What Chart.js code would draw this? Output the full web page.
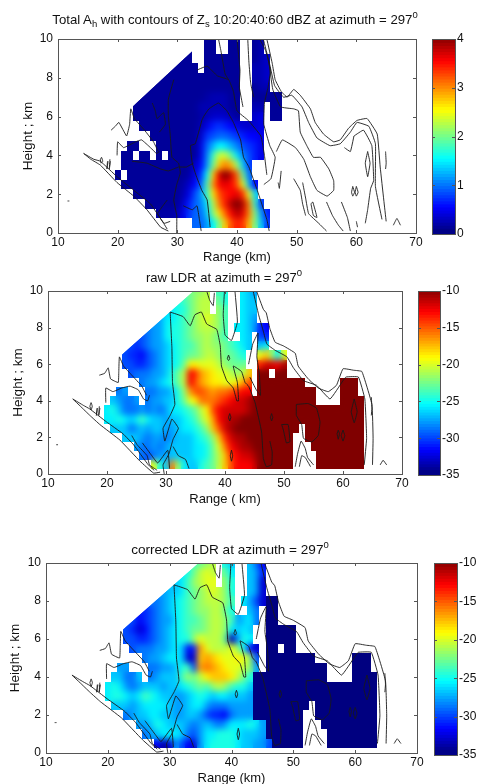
<!DOCTYPE html>
<html>
<head>
<meta charset="utf-8">
<script src="https://cdn.jsdelivr.net/npm/chart.js@4"></script>
<style>
html, body { margin: 0; padding: 0; background: #fff; width: 480px; height: 784px; overflow: hidden; }
#page { position: relative; width: 480px; height: 784px; overflow: hidden; filter: blur(0.35px); }
canvas { position: absolute; left: 0; }
.title { position: absolute; transform: translate(-50%, -50%); white-space: nowrap; font: 13px "Liberation Sans", sans-serif; color: #111; }
.title sub, .title sup { font-size: 9.5px; line-height: 0; }
</style>
</head>
<body>
<div id="page">
  <div class="title" style="left:235px;top:19px;font-size:13.2px">Total A<sub>h</sub> with contours of Z<sub>s</sub> 10:20:40:60 dBZ at azimuth = 297<sup>0</sup></div>
  <div class="title" style="left:224px;top:277px">raw LDR at azimuth = 297<sup>0</sup></div>
  <div class="title" style="left:230px;top:549px;font-size:13.6px">corrected LDR at azimuth = 297<sup>0</sup></div>
</div>
<script>
// axes
const rangeTicks = [10, 20, 30, 40, 50, 60, 70];
const heightTicks = [0, 2, 4, 6, 8, 10];
const ahTicks = [0, 1, 2, 3, 4];
const ldrTicks = [-35, -30, -25, -20, -15, -10];

// grid: first column is 20 km, rows go from the top down
const rangeStart = 20;
const rangeStep = 1;
const heightBins = [10, 9.5, 9, 8.5, 8, 7.5, 7, 6.5, 6, 5.5, 5, 4.5, 4, 3.5, 3, 2.5, 2, 1.5, 1, 0.5];

// total Ah (dB/km)
const ahValues = [
  [,,,,,,,,,,,,,,,.1,.1,,,.1,.1,,,.1,.2],
  [,,,,,,,,,,,,.1,,,.1,.1,,,.1,.1,,,.1,.2],
  [,,,,,,,,,,.1,.1,.1,,,.1,.1,.1,.1,.1,.1,,,.1,.2,.3],
  [,,,,,,,,,.1,.1,.1,.1,.1,,.1,.1,.1,.1,.1,.1,,,.2,.2,.3],
  [,,,,,,,.1,.1,.1,.1,.1,.1,.1,.1,.1,.1,.1,.1,.1,.1,,,.2,.2,.3],
  [,,,,,.1,.1,.1,.1,.1,.1,.1,.1,.1,.1,.1,.1,.1,.1,.1,.1,,,.1,.2,.2],
  [,,,.1,.1,.1,.1,.1,.1,.1,.1,.1,.1,.1,.1,.15,.2,.2,.2,.1,.1,,,.1,.1,.1,.1,.1],
  [,,,.1,.1,.1,.1,.1,.1,.1,.1,.1,.1,.1,.2,.2,.2,.2,.2,.1,.1,,,.2,.2,,.1,.1],
  [,,,.1,.1,.1,.1,.1,.1,.1,.1,.1,.1,.1,.15,.2,.3,.3,.3,.2,.1,,,.3,.4,,.1,.1],
  [,,,,.1,.1,.1,.1,.1,.1,.1,.1,.1,.1,.2,.4,.6,.7,.6,.5,.4,.3,.3,.3,.4],
  [,,,,,,.1,.1,.1,.1,.1,.1,.1,.1,.3,.7,.8,.9,.9,.8,.7,.6,.5,.5,.4],
  [,,.1,.1,,,,.1,.1,.1,.1,.1,.1,.1,.4,.9,1.2,1.5,1.4,1.2,1,.8,.7,.6,.4],
  [,.1,.1,,.1,.1,,.1,,.1,.1,.1,.1,.1,.4,1,1.7,2.3,2.3,1.9,1.4,1,.8,.6,.4],
  [,.1,.1,.1,.1,.1,.1,.1,.1,.1,.1,.1,.1,.3,.5,1.1,1.9,2.7,3,2.8,2.1,1.3,.7],
  [.1,,.1,.1,.1,.1,.1,.1,.1,.1,.1,.1,.15,.4,.7,1.5,2.7,3.6,4,3.7,3.1,1.9,.9],
  [,.1,.1,.1,.1,.1,.1,.1,.1,.1,.1,.15,.3,.5,.9,1.8,2.9,3.5,3.6,3.5,3.2,2.4,1.2,.5],
  [,,,.1,.1,.1,.1,.1,.1,.1,.1,.2,.4,.8,1.1,1.7,2.6,3.2,3.4,3.5,3.6,3.3,2.4,1.3],
  [,,,,,.1,.1,.1,.1,.1,.1,.3,.6,.9,1,1.4,2.2,3,3.4,3.8,4,3.8,3,1.7,.7],
  [,,,,,,,.15,.15,.15,.2,.4,.7,.9,.9,1.3,2,2.6,3.1,3.5,3.8,3.6,3,2,1.1,.6],
  [,,,,,,,,,,,,,.9,.9,1.1,1.5,2,2.7,3.2,3.4,3.3,2.8,2,1.3,.7]
];

// raw LDR (dB)
const rawLdrValues = [
  [,,,,,,,,,,,,,,-23,-22,-22,-21,,-24,-25,,,-26,-27,-28],
  [,,,,,,,,,,,,-25,-24,-23,-22,-21,-21,,-23,-25,,,-26,-27,-27],
  [,,,,,,,,,,-27,-26,-25,-25,-23,-22,-21,-21,,-22,-24,,,-26,-27,-27],
  [,,,,,,,,,-28,-26,-26,-25,-24,-23,-22,-21,-20,-21,-22,-24,,,-26,-27,-28],
  [,,,,,,,-29,-28,-28,-26,-25,-25,-24,-23,-22,-21,-21,-21,-22,-24,,-26,-26,-27,-28,-31,-32],
  [,,,,,-30,-30,-29,-28,-28,-26,-25,-25,-24,-23,-22,-22,-21,-22,-23,-24,,,-26,-27,,-30,-31],
  [,,,-30,-30,-31,-30,-29,-28,-28,-27,-26,-25,-24,-24,-23,-22,-21,-22,-22,-23,-24,-25,-26,-27,,-27,-26],
  [,,,-30,-31,-31,-32,-30,-29,-28,-27,-26,-25,-24,-23,-23,-22,-21,-21,-22,-23,-23,-24,-25,,,-20,-18,-22,-26,-20],
  [,,,-30,-30,-31,-31,-30,-29,-28,-27,-26,-25,-23,-19,-19,-20,-20,-20,-21,-22,-23,-23,-23,,,-14,-12,-12,-13,-11],
  [,,,,-30,-29,-29,-29,-28,-28,-27,-25,-23,-21,-13,-14,-17,-18,-19,-20,-20,-21,-22,-21,-18,,-10,-10,,-10,-10],
  [,,,,,,-29,-28,-28,-27,-26,-25,-23,-21,-13,-15,-17,-18,-19,-19,-20,-20,-19,-17,-15,,-10,-10,-10,-10,-10,-10,-10,-10,,,,,,,-10,-10,-10],
  [,,-29,-28,,,,-29,-29,-28,-28,-27,-25,-22,-17,-15,-15,-16,-17,-16,-16,-15,-14,-13,-13,,-10,-10,-10,-10,-10,-10,-10,-10,-10,-10,,,,,-10,-10,-10],
  [,-27,-28,-29,-29,-28,,-29,-28,-28,-27,-27,-25,-23,-20,-19,-16,-16,-16,-15,-14,-13,-12,-12,-11,-10,-10,-10,-10,-10,-10,-10,-10,-10,-10,-10,,,,,-10,-10,-10,-10],
  [-26,-25,-27,-29,-29,-29,-28,-29,-28,-29,-28,-26,-26,-25,-24,-23,-21,-19,-15,-13,-12,-12,-12,-12,-11,-10,-10,-10,-10,-10,-10,-10,-10,-10,-10,-10,-10,-10,-10,-10,-10,-10,-10,-10],
  [-26,-26,-25,-26,-27,-26,-24,-26,-27,-27,-28,-27,-27,-26,-25,-24,-22,-20,-17,-13,-12,-11,-11,-10,-10,-10,-10,-10,-10,-10,-10,-10,-10,-10,-10,-10,-10,-10,-10,-10,-10,-10,-10,-10],
  [,-27,-27,-27,-29,-28,-27,-28,-27,-27,-28,-28,-27,-26,-26,-25,-24,-22,-18,-15,-12,-11,-10,-10,-10,-10,-10,-10,-10,-10,-10,-10,-10,,-10,-10,-10,-10,-10,-10,-10,-10,-10,-10],
  [,,,-27,-27,-27,-28,-29,-28,-28,-29,-28,-27,-27,-27,-26,-25,-24,-22,-18,-14,-12,-11,-11,-10,-10,-10,-10,-10,-10,-10,-10,,,-10,-10,-10,-10,-10,-10,-10,-10,-10,-10],
  [,,,,,-28,-29,-29,-28,-29,-28,-27,-27,-27,-27,-26,-26,-25,-23,-20,-16,-13,-12,-11,-11,-10,-10,-10,-10,-10,-10,-10,,,,-10,-10,-10,-10,-10,-10,-10,-10,-10],
  [,,,,,,-29,-30,-29,-28,-28,-27,-27,-27,-27,-26,-26,-25,-23,-21,-18,-14,-13,-12,-12,-11,-10,-10,-10,-10,-10,-10,,,,,-10,-10,-10,-10,-10,-10,-10,-10],
  [,,,,,,,,-20,-25,-27,-16,-22,-26,-27,-27,-25,-24,-23,-21,-18,-15,-13,-13,-13,-12,-10,-10,-10,-10,-10,-10,,,,,-10,-10,-10,-10,-10,-10,-10,-10]
];

// corrected LDR (dB)
const correctedLdrValues = [
  [,,,,,,,,,,,,,,-24,-23,-22,-21,,-25,-27,,,-27,-29,-32],
  [,,,,,,,,,,,,-26,-25,-23,-21,-20,-21,,-23,-26,,,-27,-28,-31],
  [,,,,,,,,,,-27,-27,-26,-24,-22,-21,-20,-20,,-22,-25,,,-27,-28,-33],
  [,,,,,,,,,-28,-27,-27,-26,-24,-23,-22,-21,-20,-21,-22,-25,,,-27,-28,-33],
  [,,,,,,,-29,-29,-28,-27,-26,-25,-24,-23,-22,-21,-21,-21,-22,-24,,-26,-28,-30,-33,-35,-35],
  [,,,,,-31,-31,-30,-29,-28,-27,-26,-25,-24,-23,-22,-22,-21,-21,-23,-25,,,-27,-29,,-35,-35],
  [,,,-30,-30,-32,-31,-30,-29,-28,-28,-26,-25,-24,-24,-23,-22,-21,-21,-22,-24,-28,-27,-26,-29,,-35,-35],
  [,,,-30,-31,-33,-32,-30,-29,-28,-27,-26,-25,-24,-23,-23,-22,-21,-21,-22,-26,-27,-26,-27,,,-35,-35,-35,-35,-35],
  [,,,-30,-30,-31,-31,-30,-29,-28,-27,-26,-25,-25,-22,-20,-21,-21,-21,-23,-34,-28,-25,-26,,,-35,-35,-35,-35,-35],
  [,,,,-30,-29,-29,-29,-28,-28,-27,-26,-27,-32,-31,-17,-20,-21,-21,-21,-20,-22,-26,-32,-33,,-35,-35,,-35,-35],
  [,,,,,,-29,-28,-28,-27,-26,-26,-27,-33,-33,-18,-17,-18,-19,-20,-20,-19,-20,-22,-30,,-35,-35,-35,-35,-35,-35,-35,-35,,,,,,,-35,-35,-35],
  [,,-28,-28,,,,-29,-29,-28,-28,-27,-25,-24,-30,-17,-16,-17,-18,-19,-20,-20,-21,-22,-28,,-35,-35,-35,-35,-35,-35,-35,-35,-35,-35,,,,,-35,-35,-35],
  [,-27,-27,-29,-29,-27,,-29,-28,-27,-27,-27,-24,-22,-23,-21,-19,-18,-18,-18,-19,-21,-23,-25,-35,-35,-35,-35,-35,-35,-35,-35,-35,-35,-35,-35,,,,,-35,-35,-35,-35],
  [-26,-25,-26,-28,-29,-28,-27,-27,-27,-28,-27,-27,-26,-25,-24,-23,-24,-22,-21,-22,-24,-25,-25,-27,-35,-35,-35,-35,-35,-35,-35,-35,-35,-35,-35,-35,-35,-35,-35,-35,-35,-35,-35,-35],
  [-26,-25,-25,-26,-27,-26,-24,-25,-26,-27,-27,-28,-28,-27,-26,-25,-26,-27,-26,-26,-27,-27,-27,-28,-35,-35,-35,-35,-35,-35,-35,-35,-35,-35,-35,-35,-35,-35,-35,-35,-35,-35,-35,-35],
  [,-27,-27,-27,-28,-27,-26,-26,-26,-26,-27,-28,-28,-27,-26,-26,-28,-29,-29,-29,-28,-28,-28,-28,-35,-35,-35,-35,-35,-35,-35,-35,-35,,-35,-35,-35,-35,-35,-35,-35,-35,-35,-35],
  [,,,-29,-28,-27,-27,-26,-26,-27,-27,-28,-28,-27,-27,-28,-30,-31,-31,-32,-29,-28,-28,-28,-35,-35,-35,-35,-35,-35,-35,-35,,,-35,-35,-35,-35,-35,-35,-35,-35,-35,-35],
  [,,,,,-28,-28,-27,-25,-26,-27,-27,-27,-28,-29,-28,-27,-28,-29,-28,-26,-26,-26,-25,-26,-28,-35,-35,-35,-35,-35,-35,,,,-35,-35,-35,-35,-35,-35,-35,-35,-35],
  [,,,,,,-29,-28,-27,-26,-26,-26,-27,-29,-30,-28,-26,-26,-25,-25,-25,-26,-27,-27,-27,-28,-35,-35,-35,-35,-35,-35,,,,,-35,-35,-35,-35,-35,-35,-35,-35],
  [,,,,,,,,-32,-34,-33,-28,-30,-32,-33,-28,-26,-25,-25,-25,-25,-26,-27,-27,-28,-28,-30,-35,-35,-35,-35,-35,,,,,-35,-35,-35,-35,-35,-35,-35,-35]
];

// sloped upper edge of the scanned sector, [range, height]
const sectorEdge = [[10, 2.94], [34.7, 10], [34.7, 10.5], [70, 10.5], [70, 0], [10, 0]];

// Zs contours seen in both LDR panels, [range km, height km]
const ldrContours = [
  [[14.2,4.1],[16,3.75],[17.1,3.55],[19.9,2.85],[22.7,2.2],[24.5,1.6],[27,0.5],[28,0.2]],
  [[14.2,4.1],[15.5,3.7],[17.1,3.2],[18.8,2.7],[22.2,1.85],[25.6,0.7],[27.9,0.05],[29,0.1]],
  [[18.7,5.4],[19.6,5.5],[20.2,5.8],[20.6,5.2],[21.9,5],[22,5.6],[22.1,6.4],[22.8,5.9],[24.2,5.4],[25.9,4.8],[26.7,4.3]],
  [[19.8,3.9],[19.8,4.7],[21,4.5],[22.5,4.7],[23.9,4.8],[25.3,4.6],[26.2,4.1],[26.9,4],[27.2,4.3]],
  [[17.1,3.7],[17.3,3.9],[17.5,3.7],[17.3,3.5],[17.1,3.7]],
  [[18.3,3.6],[18.2,3.2],[18.4,3.6]],
  [[18.7,3.7],[18.6,3.2],[18.8,3.6]],
  [[11.4,1.6],[11.7,1.6]],
  [[30.7,8.85],[32.9,8.6],[34.1,8.1],[34.9,8.7],[36,8.85],[36.9,8.2],[38.6,7.9],[39.2,7],[39.4,5.9],[40.3,5.1],[41.4,4.7],[42,4],[42.3,4],[42.1,5],[41.4,5.9],[42.8,5.6],[43.4,5],[44,4.8],[45.1,3.9],[46.2,2.3],[46.5,0.85],[47,0.4],[47.9,0.5],[48,1.2],[47.6,1.8]],
  [[30.7,8.85],[31,6.9],[31.1,5],[31.5,3.8],[30.7,3.2],[29.5,2.5],[29.8,1.8],[31,3],[32.1,2.5],[31.2,1.9],[30.5,1.1],[29.5,0.5],[29.7,0]],
  [[24.2,2.1],[25.1,1.6],[26.8,1],[27.2,0.5],[28.5,0.2]],
  [[26,1.7],[27.6,1],[28.6,0.6],[30.3,1.3],[30.6,0.3]],
  [[31.2,1.5],[32.1,1],[33.3,0.8],[33.9,0.3]],
  [[36.9,10],[37.4,9.5],[38,9.2],[38.2,9.9]],
  [[39.9,9.95],[39.7,8.7],[40,7.6],[41.1,7.3],[42.1,8.3],[41.7,9.95]],
  [[45.4,9.95],[46.5,9],[47,8.8],[47.6,7.95],[48.5,7.2],[49.9,7],[51.9,6.6],[52.4,5.9],[54.1,5.2],[55.8,4.7],[57.5,4.5],[58.9,4.85],[60,5.75],[61.8,5.67],[63.2,5.6],[64.9,3.8],[65.1,1.95],[65,0.5]],
  [[44.8,9.95],[45.7,8.7],[46.5,7.8],[47.1,7.1],[48.5,6.76],[50.5,6.4],[51.6,5.8],[53.3,5.1],[55.5,4.85],[57.8,4.1],[60,5.1],[60.5,5.3],[62.6,5.3],[63.7,4.1],[64,1.95],[63.6,0.5]],
  [[44,6],[44.7,7.1],[45.6,7.7],[45.4,6.4],[45.8,5.5],[46,4.3],[45.3,4.6],[44.2,5.3]],
  [[40.6,6.5],[40.8,6.3],[40.6,6.2],[40.4,6.3],[40.6,6.5]],
  [[40.8,3.3],[41,3.1],[40.8,2.9],[40.6,3.1],[40.8,3.3]],
  [[41.1,1.3],[41.3,1],[41.1,0.7],[40.9,1],[41.1,1.3]],
  [[47.9,3.3],[48.1,3.1],[47.9,2.9],[47.7,3.1],[47.9,3.3]],
  [[52.1,3.8],[54.1,3.85],[55.5,3.6],[56.1,2.85],[55.8,2.1],[54.7,1.75],[53.3,1.95],[53,2.7],[52.1,3.2],[52.1,3.8]],
  [[49.6,2.7],[50.7,2.7],[51,1.76],[50.4,1.7],[49.9,2.4],[49.6,2.7]],
  [[51.9,0.4],[52.3,1.1],[52.9,1.8],[53.6,1.4],[54,0.9],[55,0.5]],
  [[52.6,0.4],[53,1],[53.6,0.9],[54.5,0.4]],
  [[59.2,2.4],[59.4,2.2],[59.2,1.9],[59,2.2],[59.2,2.4]],
  [[60,2.4],[60.3,2.1],[60,1.8],[59.7,2.1],[60,2.4]],
  [[61.9,4.1],[62.4,3.4],[61.9,2.8],[61.4,3.4],[61.9,4.1]],
  [[64.8,4.2],[64.9,3.6],[64.8,3.2]],
  [[66.3,0.5],[66.8,0.75],[67.4,0.5]]
];

// Zs contours of the top panel, [range km, height km]
const ahContours = [
  [[14.3,4.1],[16,3.8],[17.1,3.7],[19.9,2.9],[22.7,2.2],[25.5,1.5],[27.7,0.5],[28.3,0.2]],
  [[14.3,4.1],[15.5,3.8],[17.1,3.5],[19.9,2.6],[22.7,1.9],[24.9,1.2],[27.2,0.3],[28.5,0.1]],
  [[18.9,5.3],[19.6,5.5],[20.2,5.7],[21.5,5],[22,5.6],[22.2,6.4],[22.8,5.9],[24.5,5.3],[26,4.7],[26.8,4.2]],
  [[19.9,4],[20,4.7],[21,4.4],[23,4.7],[24,4.8],[25.5,4.4],[26.5,4.1],[27,4.2]],
  [[17.1,3.8],[17.3,3.9],[17.5,3.7],[17.2,3.6],[17.1,3.8]],
  [[18.3,3.7],[18.2,3.3],[18.4,3.7]],
  [[18.7,3.8],[18.6,3.3],[18.8,3.7]],
  [[11.6,1.65],[11.9,1.65]],
  [[22.4,3.7],[24.9,3.6],[27.2,3.3],[28.5,3.2],[30.2,3.4],[31.5,3.4],[32.7,3.6]],
  [[29.4,7.9],[28.5,6.9],[28.5,6],[28.8,5.1],[29.1,3.9],[30.2,3.6],[30.5,3.1],[29.9,2.5],[29.4,1.7],[29.9,0.9],[29.9,0]],
  [[25.8,6.7],[26.3,6.3],[26.6,5.9],[27.7,6.2],[28,5.6],[27,5.2]],
  [[33.3,8.4],[35,8.6],[36.7,8.1],[38.6,7.9],[39.4,7.3],[40,6.3],[41.9,5.8],[44,5],[44.6,4],[45,3]],
  [[34.1,5.8],[34.4,6],[35.3,6.4],[36.9,6.7],[38.3,6.3],[39.4,5.7],[40.6,4.8],[41.1,3.9],[42,3.4],[43.4,2.2],[45,0.7],[45.4,0.1]],
  [[34.1,5.8],[33,4.6],[32.2,4.5],[32.5,3.6],[33.1,3],[34.1,2.2],[35,1.7],[35.5,0.3]],
  [[28.3,1.7],[26.7,1],[27.8,0.5],[28.8,0.6]],
  [[31,1.4],[32.5,1.2],[33.3,1.4],[33.7,0.7],[34,0.1]],
  [[36.9,10],[37.3,9.4],[38,8.2],[38.6,7.9]],
  [[40,10],[40.5,8.4],[40.4,7.5],[41,6.5]],
  [[41.8,10],[42,8.8],[42.3,7.7],[42.8,7]],
  [[43.8,10],[44.8,9.4],[45.6,8.4],[45.2,7.5],[44.6,6.7],[44.5,5.6],[45.5,4.5],[46.4,3.9],[45.7,2.8],[44.5,2.5]],
  [[45,10],[45.9,8.75],[46.4,7.9],[47.4,7.3],[48.4,7],[49.5,7.4],[50.6,7.1],[52.3,6.4],[53.1,5.7],[54.5,5.1],[56.2,4.7],[57.3,4.8],[58.7,5.4],[60.1,5.8],[61.8,5.9],[63.5,5.1],[64,3.4],[64.6,1.7],[65,0.6]],
  [[44.4,10],[45.4,8.8],[46.3,7.6],[47.8,7],[49.2,7.1],[50.9,6.5],[52,5.7],[53.4,4.9],[55.6,4.5],[57.3,4.6],[59,5.2],[60.1,5.7],[62.1,5.5],[63.2,4.6],[63.2,2.4],[64.3,0.7]],
  [[45.3,8.9],[46,7.4],[47.3,6.5],[49.5,6.4],[50.3,6.3],[50.6,5.2],[51.7,4.5],[52.8,3.9],[54,3.9],[55.4,3.3],[56.2,2.7],[56.2,2.2],[55.1,1.9],[53.4,2.2],[52.3,2.9],[51.2,3.8],[49.8,4.4],[47.6,4.8],[46.6,4.2]],
  [[59.6,5],[61.2,5.3],[62.6,4.5],[62.9,2.7],[62.4,2.3],[61.9,1.2],[61.5,0.5]],
  [[58,4.4],[59,4.2],[59.6,5]],
  [[61.9,4.2],[62.3,3.6],[61.9,2.9],[61.5,3.6],[61.9,4.2]],
  [[59.4,2.4],[59.7,2.1],[59.4,1.9],[59.2,2.1],[59.4,2.4]],
  [[60,2.4],[60.3,2.1],[60,1.9],[59.8,2.1],[60,2.4]],
  [[47.4,3.2],[47.1,2.3],[46.9,2.6]],
  [[49.5,2.8],[50.6,2.2],[51,1.5],[51.5,0.9]],
  [[51,2.6],[51.5,1.8],[52,1],[53.7,0.5],[55,0.1]],
  [[52.4,1.5],[52.8,0.9],[53.4,0.8],[52.7,1.6],[52.4,1.5]],
  [[55,1.6],[56,0.9],[57,0.4],[57.8,0.1]],
  [[57.5,1.6],[58.5,0.8],[59,0.1]],
  [[60,0.6],[60.2,0.3]],
  [[64.9,4.2],[65,3.6],[64.9,3.3]],
  [[66.2,0.4],[66.8,0.75],[67.4,0.4]]
];

const fontName = '"Liberation Sans", sans-serif';
const boxColor = '#555';

// matlab jet
function jet(t) {
  const c = v => Math.round(255 * Math.max(0, Math.min(1, 1.5 - Math.abs(v))));
  return 'rgb(' + c(4 * t - 3) + ',' + c(4 * t - 2) + ',' + c(4 * t - 1) + ')';
}

function gridToPoints(rows) {
  const pts = [];
  rows.forEach((row, j) => {
    row.forEach((v, i) => {
      pts.push({ x: rangeStart + i * rangeStep, y: heightBins[j], v: v });
    });
  });
  return pts;
}

function layerCanvas(chart) {
  const c = document.createElement('canvas');
  c.width = chart.width;
  c.height = chart.height;
  return c;
}

// paints the grid cells at the pixels given by the scales
const heatCells = {
  id: 'heatCells',
  beforeDatasetsDraw(chart, args, opts) {
    const xs = chart.scales.x, ys = chart.scales.y;
    const area = chart.chartArea;
    const points = chart.data.datasets[0].data;
    const halfH = (heightBins[0] - heightBins[1]) / 2;
    const ctx = chart.ctx;
    const all = layerCanvas(chart), soft = layerCanvas(chart), floor = layerCanvas(chart);
    const allCtx = all.getContext('2d'), softCtx = soft.getContext('2d'), floorCtx = floor.getContext('2d');
    const cells = new Path2D();
    points.forEach(p => {
      const x0 = Math.round(xs.getPixelForValue(p.x - rangeStep / 2));
      const x1 = Math.round(xs.getPixelForValue(p.x + rangeStep / 2));
      const y0 = Math.round(ys.getPixelForValue(p.y + halfH));
      const y1 = Math.round(ys.getPixelForValue(p.y - halfH));
      const color = jet((p.v - opts.min) / (opts.max - opts.min));
      allCtx.fillStyle = color;
      allCtx.fillRect(x0, y0, x1 - x0, y1 - y0);
      // cells at the bottom of the scale keep a hard edge
      const layer = p.v <= opts.min ? floorCtx : softCtx;
      layer.fillStyle = color;
      layer.fillRect(x0, y0, x1 - x0, y1 - y0);
      cells.rect(x0, y0, x1 - x0, y1 - y0);
    });
    ctx.save();
    ctx.beginPath();
    ctx.rect(area.left, area.top, area.right - area.left, area.bottom - area.top);
    ctx.clip();
    ctx.beginPath();
    sectorEdge.forEach((p, i) => {
      const px = xs.getPixelForValue(p[0]), py = ys.getPixelForValue(p[1]);
      if (i === 0) ctx.moveTo(px, py); else ctx.lineTo(px, py);
    });
    ctx.closePath();
    ctx.clip();
    ctx.clip(cells);
    ctx.drawImage(all, 0, 0);
    ctx.filter = 'blur(3px)';
    ctx.drawImage(soft, 0, 0);
    ctx.filter = 'none';
    ctx.drawImage(floor, 0, 0);
    ctx.restore();
  }
};

// matlab style box with inward ticks on all four sides
const boxTicks = {
  id: 'boxTicks',
  afterDraw(chart) {
    const a = chart.chartArea, ctx = chart.ctx;
    const len = 3;
    ctx.save();
    ctx.strokeStyle = boxColor;
    ctx.lineWidth = 1;
    ctx.strokeRect(a.left + 0.5, a.top + 0.5, a.right - a.left, a.bottom - a.top);
    ctx.beginPath();
    if (chart.scales.x.options.display !== false) {
      chart.scales.x.ticks.forEach(t => {
        const px = Math.round(chart.scales.x.getPixelForValue(t.value)) + 0.5;
        ctx.moveTo(px, a.bottom); ctx.lineTo(px, a.bottom - len);
        ctx.moveTo(px, a.top); ctx.lineTo(px, a.top + len);
      });
    }
    chart.scales.y.ticks.forEach(t => {
      const py = Math.round(chart.scales.y.getPixelForValue(t.value)) + 0.5;
      ctx.moveTo(a.left, py); ctx.lineTo(a.left + len, py);
      ctx.moveTo(a.right, py); ctx.lineTo(a.right - len, py);
    });
    ctx.stroke();
    ctx.restore();
  }
};

function addCanvas(top, width, height) {
  const c = document.createElement('canvas');
  c.width = width;
  c.height = height;
  c.style.top = top + 'px';
  document.getElementById('page').appendChild(c);
  return c;
}

function makePanel(p) {
  const canvas = addCanvas(p.canvasTop, 480, p.canvasHeight);
  const datasets = [{
    data: gridToPoints(p.grid),
    pointRadius: 0,
    showLine: false
  }];
  p.contours.forEach(line => {
    datasets.push({
      data: line.map(q => ({ x: q[0], y: q[1] })),
      showLine: true,
      borderColor: '#1a1a1a',
      borderWidth: 0.9,
      pointRadius: 0,
      tension: 0.1
    });
  });
  return new Chart(canvas, {
    type: 'scatter',
    data: { datasets: datasets },
    plugins: [heatCells, boxTicks],
    options: {
      responsive: false,
      animation: false,
      layout: {
        padding: {
          left: p.titleLeft,
          right: 480 - p.right,
          top: p.top - p.canvasTop,
          bottom: p.canvasTop + p.canvasHeight - p.xTitleBottom
        }
      },
      plugins: {
        legend: { display: false },
        tooltip: { enabled: false },
        heatCells: { min: p.min, max: p.max }
      },
      scales: {
        x: {
          type: 'linear',
          min: 10, max: 70,
          afterFit: s => { s.height = p.xTitleBottom - p.bottom; },
          afterBuildTicks: s => { s.ticks = rangeTicks.map(v => ({ value: v })); },
          grid: { display: false, drawTicks: false },
          border: { display: false },
          ticks: { color: '#111', font: { family: fontName, size: 12 }, padding: 2, maxRotation: 0 },
          title: { display: true, text: p.xTitle, color: '#111', font: { family: fontName, size: 13 }, padding: 0 }
        },
        y: {
          type: 'linear',
          min: 0, max: 10,
          afterFit: s => { s.width = p.left - p.titleLeft; },
          afterBuildTicks: s => { s.ticks = heightTicks.map(v => ({ value: v })); },
          grid: { display: false, drawTicks: false },
          border: { display: false },
          ticks: { color: '#111', font: { family: fontName, size: 12 }, padding: 5 },
          title: { display: true, text: 'Height ; km', color: '#111', font: { family: fontName, size: 13.5 }, padding: 0 }
        }
      }
    }
  });
}

function makeColorbar(b) {
  const canvas = addCanvas(b.top - 10, 480, b.bottom - b.top + 20);
  const levels = 64;
  const step = (b.max - b.min) / levels;
  const datasets = [];
  for (let i = 0; i < levels; i++) {
    const hi = i === levels - 1 ? b.max : b.min + (i + 1.6) * step;
    datasets.push({
      data: [[b.min + i * step, hi]],
      backgroundColor: jet((i + 0.5) / levels),
      barPercentage: 1,
      categoryPercentage: 1,
      grouped: false
    });
  }
  return new Chart(canvas, {
    type: 'bar',
    data: { labels: [''], datasets: datasets },
    plugins: [boxTicks],
    options: {
      responsive: false,
      animation: false,
      layout: { padding: { left: b.left, right: 480 - b.right - 30, top: 10, bottom: 10 } },
      plugins: { legend: { display: false }, tooltip: { enabled: false } },
      scales: {
        x: { display: false },
        y: {
          position: 'right',
          min: b.min, max: b.max,
          afterFit: s => { s.width = 30; },
          afterBuildTicks: s => { s.ticks = b.ticks.map(v => ({ value: v })); },
          grid: { display: false, drawTicks: false },
          border: { display: false },
          ticks: { color: '#111', font: { family: fontName, size: 12 }, padding: 2 }
        }
      }
    }
  });
}

makePanel({ canvasTop: 0, canvasHeight: 270, left: 58, right: 416, top: 39, bottom: 233, titleLeft: 20, xTitleBottom: 265, xTitle: 'Range (km)', grid: ahValues, contours: ahContours, min: 0, max: 4 });
makePanel({ canvasTop: 270, canvasHeight: 240, left: 48, right: 402, top: 291, bottom: 474, titleLeft: 10, xTitleBottom: 507, xTitle: 'Range ( km)', grid: rawLdrValues, contours: ldrContours, min: -35, max: -10 });
makePanel({ canvasTop: 540, canvasHeight: 250, left: 46, right: 417, top: 563, bottom: 753, titleLeft: 7, xTitleBottom: 786, xTitle: 'Range (km)', grid: correctedLdrValues, contours: ldrContours, min: -35, max: -10 });

makeColorbar({ left: 432, right: 455, top: 39, bottom: 234, min: 0, max: 4, ticks: ahTicks });
makeColorbar({ left: 418, right: 440, top: 291, bottom: 475, min: -35, max: -10, ticks: ldrTicks });
makeColorbar({ left: 434, right: 457, top: 563, bottom: 755, min: -35, max: -10, ticks: ldrTicks });
</script>
</body>
</html>
